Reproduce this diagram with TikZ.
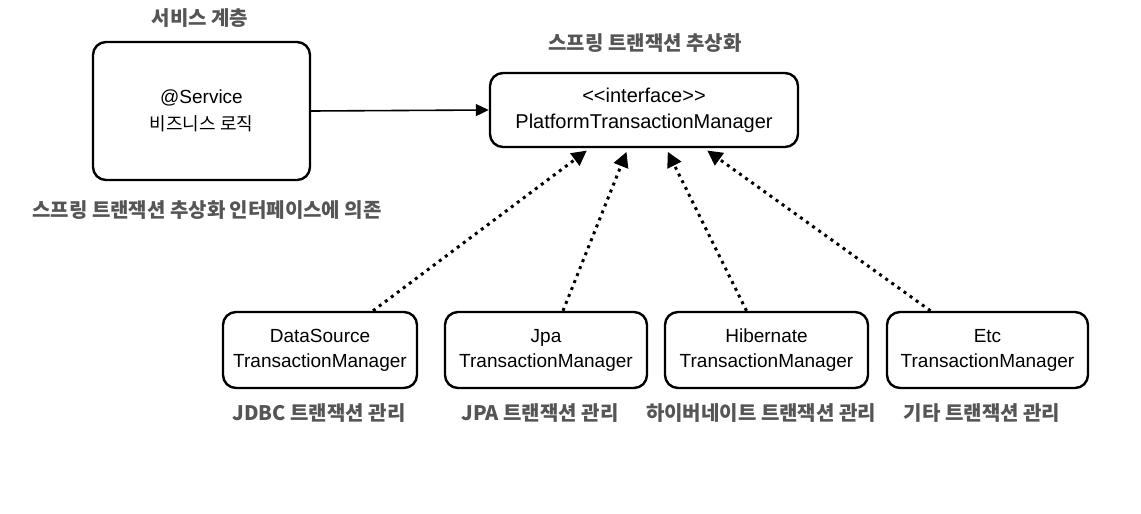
\documentclass[tikz,border=0pt]{standalone}
\usepackage{fontspec}
\setmainfont{Liberation Sans}[Ligatures=NoCommon]
\newfontfamily\kr{Noto Sans CJK KR}
\usetikzlibrary{arrows.meta}
\definecolor{labelgray}{HTML}{555555}
\tikzset{
  box/.style={draw=black, line width=2.4pt, rounded corners=13pt, fill=white, align=center, inner sep=0pt, font=\fontsize{19}{25}\selectfont},
  lbl/.style={text=labelgray, font=\kr\bfseries\fontsize{20}{22}\selectfont, inner sep=0pt},
  dep/.style={line width=3pt, dash pattern=on 3pt off 4.5pt, -{Triangle[length=15pt,width=15pt]}, shorten >=4pt},
  use/.style={line width=1.6pt, -{Triangle[length=13pt,width=12pt]}}
}
\begin{document}
\begin{tikzpicture}[x=1pt,y=-1pt]
\useasboundingbox (0,0) rectangle (1141,514);
\node[box, minimum width=217pt, minimum height=138pt, font=\fontsize{19}{27}\selectfont] (svc) at (201.5,111) {@Service\\{\kr\fontsize{18}{27}\selectfont 비즈니스 로직}};
\node[box, minimum width=308pt, minimum height=74pt, font=\fontsize{20}{26}\selectfont] (ptm) at (644,110) {{<}{<}interface{>}{>}\\PlatformTransactionManager};
\node[box, minimum width=194pt, minimum height=76pt] (ds) at (320,350) {DataSource\\TransactionManager};
\node[box, minimum width=202pt, minimum height=76pt] (jpa) at (546,350) {Jpa\\TransactionManager};
\node[box, minimum width=203pt, minimum height=76pt] (hib) at (766.5,350) {Hibernate\\TransactionManager};
\node[box, minimum width=201pt, minimum height=76pt] (etc) at (987.5,350) {Etc\\TransactionManager};

\node[lbl] (l1) at (200,18) {서비스 계층};
\node[lbl] (l2) at (645,43) {스프링 트랜잭션 추상화};
\node[lbl] (l3) at (207,210) {스프링 트랜잭션 추상화 인터페이스에 의존};
\node[lbl] (l4) at (319,413) {JDBC 트랜잭션 관리};
\node[lbl] (l5) at (540,413) {JPA 트랜잭션 관리};
\node[lbl] (l6) at (761,413) {하이버네이트 트랜잭션 관리};
\node[lbl] (l7) at (982,413) {기타 트랜잭션 관리};

\draw[use] (svc.east) -- (ptm.west);
\draw[dep] ([xshift=53pt]ds.north) -- ([xshift=-54pt]ptm.south);
\draw[dep] ([xshift=17pt]jpa.north) -- ([xshift=-16pt]ptm.south);
\draw[dep] ([xshift=-20pt]hib.north) -- ([xshift=22pt]ptm.south);
\draw[dep] ([xshift=-57pt]etc.north) -- ([xshift=60pt]ptm.south);
\end{tikzpicture}
\end{document}
